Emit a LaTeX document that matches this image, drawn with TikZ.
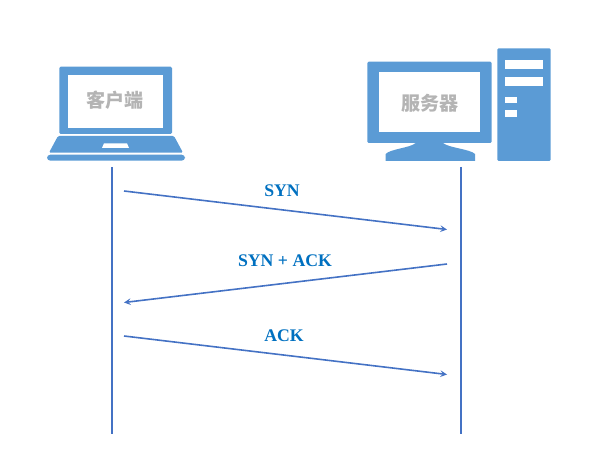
\documentclass[tikz,border=0pt]{standalone}
\usepackage{fontspec}
\usepackage{xcolor}
\setmainfont{Liberation Serif}
\newfontfamily\cjkfont{Noto Sans CJK SC}
\definecolor{iconblue}{HTML}{5B9BD5}
\definecolor{lineblue}{HTML}{4472C4}
\definecolor{labelblue}{HTML}{0070C0}
\definecolor{labelgray}{HTML}{B4B4B4}
\tikzset{
    icon/.style={fill=iconblue, draw=none, rounded corners=1pt},
    hole/.style={fill=white, draw=none},
    lifeline/.style={draw=lineblue, line width=1.2pt},
    msgline/.style={draw=lineblue, line width=1.2pt, ->, >=stealth},
    msglabel/.style={text=labelblue, font=\fontsize{13.3}{15}\selectfont\bfseries},
    hostlabel/.style={text=labelgray, font=\cjkfont\fontsize{14.3}{16}\selectfont\bfseries}
}
\begin{document}
\begin{tikzpicture}[x=0.75pt, y=-0.75pt]
                \useasboundingbox (0,0) rectangle (600,459);
                % laptop
                \fill [icon] (59.3,66.7) rectangle (172,134);
                \fill [hole] (68,75) rectangle (163,128);
                \fill [icon] (58,136) -- (174,136) -- (183,152.7) -- (49,152.7) -- cycle;
                \fill [hole] (104,143.3) -- (127,143.3) -- (129,148) -- (102,148) -- cycle;
                \fill [icon, rounded corners=2.5pt] (47,154.7) rectangle (185,160.7);
                % server
                \fill [icon] (367.3,61.7) rectangle (491.7,143);
                \fill [hole] (379,72.3) rectangle (480,132.3);
                \fill [icon, rounded corners=0pt] (415.7,143) .. controls (410,148) and (390,149) .. (385.7,154) -- (385.7,161) -- (475,161) -- (475,154) .. controls (470,149) and (449,148) .. (443,143) -- cycle;
                \fill [icon] (497.3,48.3) rectangle (550.7,161);
                \fill [hole] (505,60) rectangle (543.3,69);
                \fill [hole] (505,76.7) rectangle (543.3,86);
                \fill [hole] (505,96.7) rectangle (516.7,103.3);
                \fill [hole] (505,110) rectangle (516.7,116.7);
                \node [hostlabel] (client) at (115.3,100) {客户端};
                \node [hostlabel] (server) at (430,103) {服务器};
                % life lines
                \coordinate (clienttop) at (112,167);
                \coordinate (clientbot) at (112,434);
                \coordinate (servertop) at (461,167);
                \coordinate (serverbot) at (461,434);
                \draw [lifeline] (clienttop) -- (clientbot);
                \draw [lifeline] (servertop) -- (serverbot);
                % handshake
                \coordinate (syna) at (124,191);
                \coordinate (synb) at (447,229.5);
                \coordinate (sacka) at (447,264);
                \coordinate (sackb) at (124,302.5);
                \coordinate (acka) at (124,336);
                \coordinate (ackb) at (447,374.5);
                \draw [msgline] (syna) -- (synb);
                \draw [msgline] (sacka) -- (sackb);
                \draw [msgline] (acka) -- (ackb);
                \node [msglabel] (synlabel) at (282,190.5) {SYN};
                \node [msglabel] (sacklabel) at (285,260.5) {SYN + ACK};
                \node [msglabel] (acklabel) at (284,335.5) {ACK};
\end{tikzpicture}
\end{document}
